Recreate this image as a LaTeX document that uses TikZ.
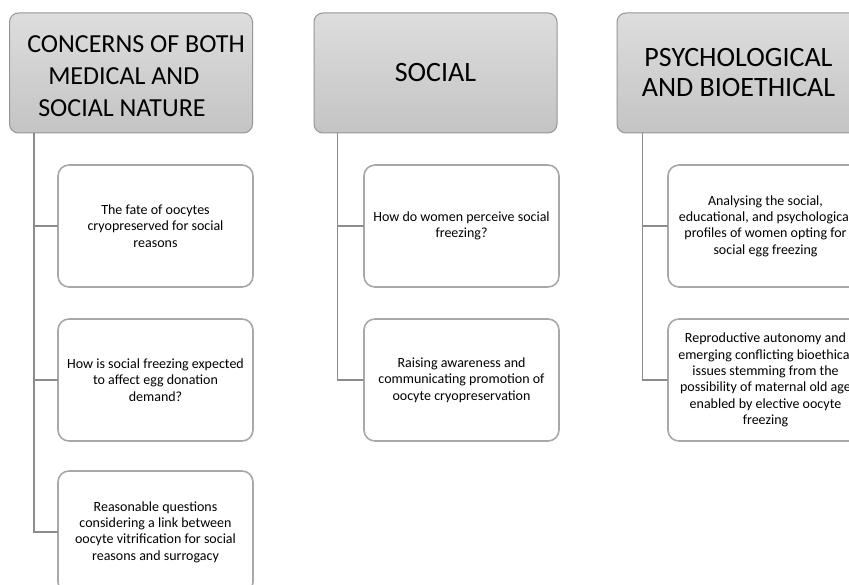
\documentclass[tikz,border=0pt]{standalone}
\usepackage{fontspec}
\setmainfont{Carlito}
\usetikzlibrary{positioning,shapes.misc}
\definecolor{headtop}{RGB}{221,221,221}
\definecolor{headbot}{RGB}{196,196,196}
\definecolor{headline}{RGB}{150,150,150}
\definecolor{boxline}{RGB}{168,168,168}
\definecolor{connline}{RGB}{140,140,140}

\begin{document}
\begin{tikzpicture}[
  x=1pt, y=-1pt, line cap=round,
  head/.style={draw=headline, line width=1pt, rounded corners=9pt, top color=headtop, bottom color=headbot,
    minimum width=243pt, minimum height=120pt, inner sep=0pt, align=center, font=\fontsize{28}{30}\selectfont},
  item/.style={draw=boxline, line width=1.6pt, rounded corners=11pt, fill=white,
    minimum width=195pt, minimum height=122pt, inner sep=0pt, align=center, font=\fontsize{14}{16.3}\selectfont},
  conn/.style={draw=connline, line width=1.8pt}
]
\clip (0,0) rectangle (849,585);
\fill[white] (0,0) rectangle (849,585);

% headers
\node[head, align=left, font=\fontsize{26}{32}\selectfont] (h1) at (131,73)
  {\rule{0pt}{23pt}\hspace*{10pt}CONCERNS OF BOTH\\ \hspace*{31pt}MEDICAL AND\\ \hspace*{21pt}SOCIAL NATURE};
\node[head] (h2) at (435.5,73) {SOCIAL};
\node[head] (h3) at (738.5,73) {PSYCHOLOGICAL\\AND BIOETHICAL};

% medical and social
  \node[item] (h1-1) at (155.5,226) {The fate of oocytes\\cryopreserved for social\\reasons};
  \node[item] (h1-2) at (155.5,380) {How is social freezing expected\\to affect egg donation\\demand?};
  \node[item] (h1-3) at (155.5,532) {Reasonable questions\\considering a link between\\oocyte vitrification for social\\reasons and surrogacy};
% social
  \node[item] (h2-1) at (461.5,226) {How do women perceive social\\freezing?};
  \node[item] (h2-2) at (461.5,380) {Raising awareness and\\communicating promotion of\\oocyte cryopreservation};
% psychological and bioethical
  \node[item] (h3-1) at (765.5,226) {Analysing the social,\\educational, and psychological\\profiles of women opting for\\social egg freezing};
  \node[item] (h3-2) at (765.5,380) {Reproductive autonomy and\\emerging conflicting bioethical\\issues stemming from the\\possibility of maternal old age\\enabled by elective oocyte\\freezing};

\draw[conn] ([xshift=25pt]h1.south west) |- (h1-1.west);
\draw[conn] ([xshift=25pt]h1.south west) |- (h1-2.west);
\draw[conn] ([xshift=25pt]h1.south west) |- (h1-3.west);
\draw[conn] ([xshift=24pt]h2.south west) |- (h2-1.west);
\draw[conn] ([xshift=24pt]h2.south west) |- (h2-2.west);
\draw[conn] ([xshift=26pt]h3.south west) |- (h3-1.west);
\draw[conn] ([xshift=26pt]h3.south west) |- (h3-2.west);
\end{tikzpicture}
\end{document}
